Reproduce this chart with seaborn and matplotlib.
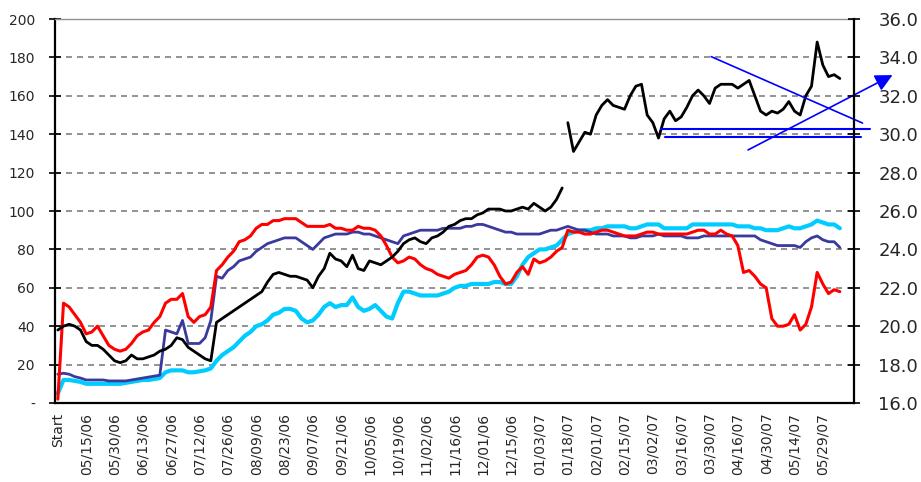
import numpy as np
import seaborn as sns
import matplotlib.pyplot as plt
from matplotlib.ticker import FormatStrFormatter

# values, one point per tick (every 2nd trading day), left-axis units
red_vals = [2, 52, 50, 46, 42, 36, 37, 40, 35, 30, 28, 27, 28, 31, 35, 37, 38, 42, 45, 52,
            54, 54, 57, 45, 42, 45, 46, 50, 69, 72, 76, 79, 84, 85, 87, 91,
            93, 93, 95, 95, 96, 96, 96, 94, 92, 92, 92, 92, 93, 91, 91, 90, 90, 92, 91, 91,
            90, 87, 82, 76, 73, 74, 76, 75, 72, 70, 69, 67, 66, 65,
            67, 68, 69, 72, 76, 77, 76, 72, 66, 62, 63, 68, 71, 67, 75, 73, 74, 76, 79, 81,
            90, 89, 89, 88, 88, 89, 90, 90, 89, 88, 87, 87, 87, 88, 89, 89, 88,
            88, 88, 88, 88, 88, 89, 90, 90, 88, 88, 90, 88, 87, 82, 68, 69, 66, 62, 60, 44,
            40, 40, 41, 46, 38, 41, 50, 68, 62, 57, 59, 58]

slate_vals = [15, 15.5, 15, 13.7, 13, 12, 12, 12, 12, 11.5, 11.5, 11.5, 11.5, 12, 12.5, 13, 13.5, 14, 14.5, 38,
              37, 36, 43, 31, 31, 31, 34, 43, 66, 65, 69, 71, 74, 75, 76, 79,
              81, 83, 84, 85, 86, 86, 86, 84, 82, 80, 83, 86, 87, 88, 88, 88, 89, 89, 88, 88,
              87, 86, 85, 84, 83, 87, 88, 89, 90, 90, 90, 90, 91, 91,
              91, 91, 92, 92, 93, 93, 92, 91, 90, 89, 89, 88, 88, 88, 88, 88, 89, 90, 90, 91,
              92, 91, 90, 90, 89, 88, 88, 88, 87, 87, 87, 86, 86, 87, 87, 87, 88,
              87, 87, 87, 87, 86, 86, 86, 87, 87, 87, 87, 87, 87, 87, 87, 87, 87, 85, 84, 83,
              82, 82, 82, 82, 81, 84, 86, 87, 85, 84, 84, 81]

cyan_vals = [5, 12, 12, 11.5, 11, 10, 10, 10, 10, 10, 10, 10, 10.5, 11, 11.5, 12, 12, 12.5, 13, 16,
             17, 17, 17, 16, 16, 16.5, 17, 18, 22, 25, 27, 29, 32, 35, 37, 40,
             41, 43, 46, 47, 49, 49, 48, 44, 42, 43, 46, 50, 52, 50, 51, 51, 55, 50, 48, 49,
             51, 48, 45, 44, 52, 58, 58, 57, 56, 56, 56, 56, 57, 58,
             60, 61, 61, 62, 62, 62, 62, 63, 63, 62, 62, 66, 72, 76, 78, 80, 80, 81, 82, 85,
             88, 89, 90, 90, 90, 91, 91, 92, 92, 92, 92, 91, 91, 92, 93, 93, 93,
             91, 91, 91, 91, 91, 93, 93, 93, 93, 93, 93, 93, 93, 92, 92, 92, 91, 91, 90, 90,
             90, 91, 92, 91, 91, 92, 93, 95, 94, 93, 93, 91]

price_early = [38, 40, 41, 40, 38, 32, 30, 30, 28, 25, 22, 21, 22, 25, 23, 23, 24, 25, 27, 28,
               30, 34, 33, 29, 27, 25, 23, 22, 42, 44, 46, 48, 50, 52, 54, 56,
               58, 63, 67, 68, 67, 66, 66, 65, 64, 60, 66, 70, 78, 75, 74, 71, 77, 70, 69, 74,
               73, 72, 74, 76, 79, 83, 85, 86, 84, 83, 86, 87, 89, 92,
               93, 95, 96, 96, 98, 99, 101, 101, 101, 100, 100, 101, 102, 101, 104, 102, 100, 102, 106, 112]

price_late = [146, 131, 136, 141, 140, 150, 155, 158, 155, 154, 153, 160, 165, 166, 150, 146, 138, 148, 152, 147,
              149, 154, 160, 163, 160, 156, 164, 166, 166, 166, 164, 166, 168, 160, 152, 150, 152, 151, 153, 157,
              152, 150, 160, 165, 188, 176, 170, 171, 169]

date_labels = ["Start", "05/15/06", "05/30/06", "06/13/06", "06/27/06", "07/12/06", "07/26/06",
               "08/09/06", "08/23/06", "09/07/06", "09/21/06", "10/05/06", "10/19/06", "11/02/06",
               "11/16/06", "12/01/06", "12/15/06", "01/03/07", "01/18/07", "02/01/07", "02/15/07",
               "03/02/07", "03/16/07", "03/30/07", "04/16/07", "04/30/07", "05/14/07", "05/29/07"]

n_cats = 141
label_every = 5

sns.set_style("white")
plt.rcParams['font.family'] = ['DejaVu Sans']

fig = plt.figure(figsize=(9.21, 4.82), dpi=100)
ax = fig.add_axes([55 / 921, 1 - 403 / 482, 799 / 921, 384 / 482])

idx = np.arange(len(red_vals))
sns.lineplot(x=idx, y=cyan_vals, ax=ax, color='#00ccff', linewidth=3.0)
sns.lineplot(x=idx, y=slate_vals, ax=ax, color='#3a3a9e', linewidth=2.0)
sns.lineplot(x=idx, y=red_vals, ax=ax, color='#ff0000', linewidth=2.2)
sns.lineplot(x=np.arange(len(price_early)), y=price_early, ax=ax, color='black', linewidth=2.0)
sns.lineplot(x=np.arange(len(price_late)) + 90, y=price_late, ax=ax, color='black', linewidth=2.0)

ax.set_xlim(-0.5, n_cats - 0.5)
ax.set_ylim(0, 200)
ax.set_xlabel('')
ax.set_ylabel('')

# grid
ax.set_yticks(np.arange(0, 201, 20))
ax.set_yticklabels(['-' if v == 0 else str(v) for v in range(0, 201, 20)], fontsize=10)
ax.yaxis.grid(True, color='#808080', linestyle=(0, (3.6, 3)), linewidth=1.2)
ax.xaxis.grid(False)

ax.set_xticks(np.arange(n_cats))
xt = [date_labels[i // label_every] if i % label_every == 0 and i // label_every < len(date_labels) else ''
      for i in range(n_cats)]
ax.set_xticklabels(xt, rotation=90, fontsize=10)
ax.tick_params(axis='x', direction='inout', length=6, width=1.5, pad=4, color='black')
ax.tick_params(axis='y', direction='inout', length=9, width=1.2, pad=10, color='black')

for s in ['left', 'bottom']:
    ax.spines[s].set_color('black')
    ax.spines[s].set_linewidth(1.6)
ax.spines['top'].set_color('#909090')
ax.spines['top'].set_linewidth(1.0)
ax.spines['right'].set_visible(False)

ax2 = ax.twinx()
ax2.set_ylim(16, 36)
ax2.set_yticks(np.arange(16, 37, 2))
ax2.yaxis.set_major_formatter(FormatStrFormatter('%.1f'))
ax2.tick_params(axis='y', direction='inout', length=9, width=1.2, pad=13, labelsize=13, color='black')
for s in ['left', 'top', 'bottom']:
    ax2.spines[s].set_visible(False)
ax2.spines['right'].set_color('black')
ax2.spines['right'].set_linewidth(1.6)

# trend lines
tl = dict(color='#0000ff', linewidth=1.2, clip_on=False, zorder=5)
ax.plot([115.3, 142.0], [180.4, 145.8], **tl)
ax.plot([106.5, 143.4], [142.6, 142.6], color='#0000ff', linewidth=1.5, clip_on=False, zorder=5)
ax.plot([107.1, 141.8], [138.7, 138.7], color='#0000ff', linewidth=1.5, clip_on=False, zorder=5)
ax.annotate('', xy=(147.3, 170.8), xytext=(121.8, 131.8), annotation_clip=False,
            arrowprops=dict(arrowstyle='-|>', mutation_scale=26, color='#0000ff',
                            linewidth=1.2, shrinkA=0, shrinkB=0), zorder=6)

fig.savefig('out.png', dpi=100)
